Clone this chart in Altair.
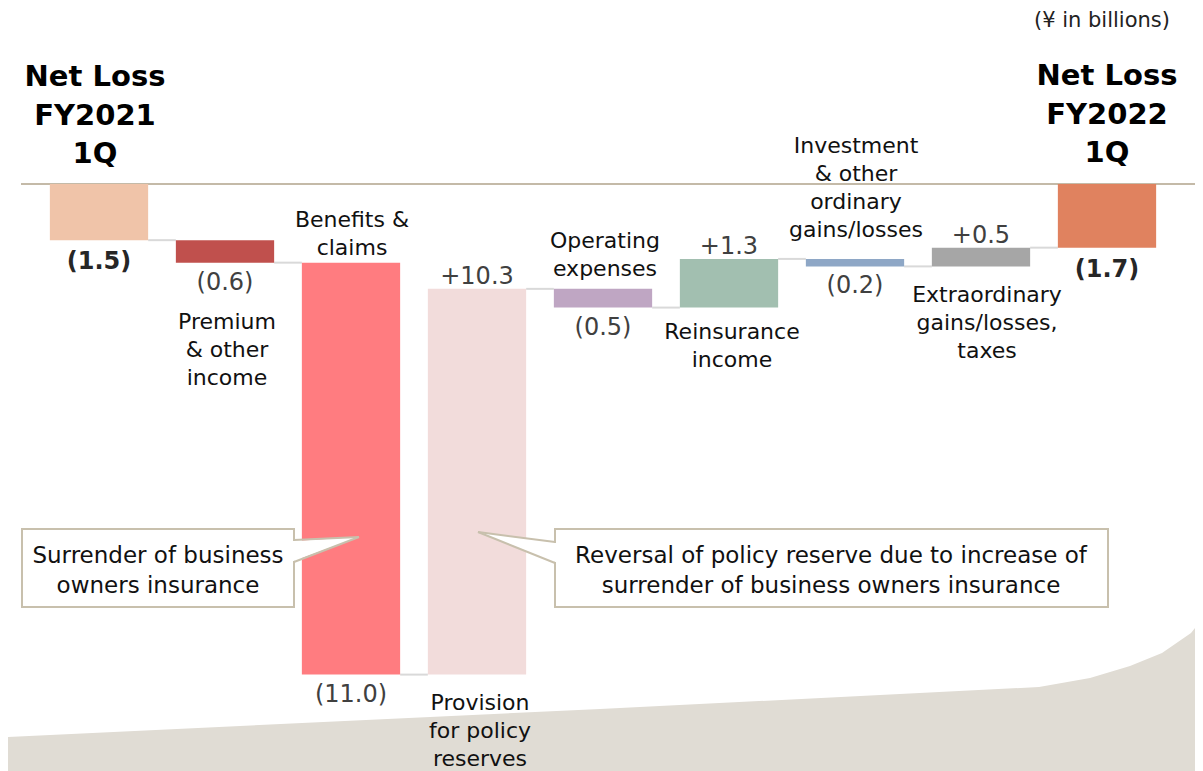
import altair as alt
import pandas as pd

# ---------------- data ----------------
categories = ["Net Loss FY2021 1Q", "Premium & other income", "Benefits & claims",
              "Provision for policy reserves", "Operating expenses", "Reinsurance income",
              "Investment & other ordinary gains/losses", "Extraordinary gains/losses, taxes",
              "Net Loss FY2022 1Q"]
category_lines = ["Net Loss\nFY2021\n1Q", "Premium\n& other\nincome", "Benefits &\nclaims",
                  "Provision\nfor policy\nreserves", "Operating\nexpenses", "Reinsurance\nincome",
                  "Investment\n& other\nordinary\ngains/losses",
                  "Extraordinary\ngains/losses,\ntaxes", "Net Loss\nFY2022\n1Q"]
changes = [-1.5, -0.6, -11.0, 10.3, -0.5, 1.3, -0.2, 0.5, -1.7]
is_total = [True, False, False, False, False, False, False, False, True]
value_text = ["(1.5)", "(0.6)", "(11.0)", "+10.3", "(0.5)", "+1.3", "(0.2)", "+0.5", "(1.7)"]
bar_colors = ["#f0c4a9", "#c0504d", "#ff7c80", "#f2dcdb", "#bfa6c3",
              "#a2bfb0", "#8ea7c6", "#a6a6a6", "#e0825f"]
notes = ["Surrender of business\nowners insurance",
         "Reversal of policy reserve due to increase of\nsurrender of business owners insurance"]
unit_text = "(¥ in billions)"

# ---------------- layout ----------------
W, H = 1187, 763
PPU = 37.45          # pixels per billion
ZERO_PX = 176        # chart y of the zero line
STEP, FIRST = 126, 91
HALF = 0.39
x_dom = [-FIRST / STEP, (W - FIRST) / STEP]
y_dom = [-(H - ZERO_PX) / PPU, ZERO_PX / PPU]


def sx(px):
    return (px - 8 - FIRST) / STEP


def sy(py):
    return (ZERO_PX - (py - 8)) / PPU


xs = alt.Scale(domain=x_dom, nice=False, zero=False)
ys = alt.Scale(domain=y_dom, nice=False, zero=False)
FONT = "DejaVu Sans"

# waterfall table
rows = []
cum = 0.0
for i, (c, v, t) in enumerate(zip(categories, changes, is_total)):
    if t:
        start, end = 0.0, v
    else:
        start, end = cum, cum + v
    cum = end
    rows.append(dict(i=i, cat=c, start=start, end=end, low=min(start, end), high=max(start, end),
                     x0=i - HALF, x1=i + HALF, color=bar_colors[i], vtext=value_text[i],
                     label=category_lines[i], total=t, up=(v > 0 and not t)))
df = pd.DataFrame(rows)

# category label placement (gap from bar edge to first baseline, px)
cat_anchor = ["high", "low", "high", "low", "high", "low", "high", "low", "high"]
cat_gap = [-98, 66, -36, 35, -41, 31, -106, 36, -99]
cat_dx = [-4, 2, 1, 3, 2, 3, 1, 6, 0]
lab_y, lab_x, val_y = [], [], []
for r, a, g, d in zip(rows, cat_anchor, cat_gap, cat_dx):
    fs = 29 if r["total"] else 22
    base = r["high"] if a == "high" else r["low"]
    lab_y.append(base - (g - round(0.79 * fs)) / PPU)
    lab_x.append(r["i"] + d / STEP)
    if r["up"]:
        val_y.append(r["high"] + 5 / PPU)
    else:
        val_y.append(r["low"] - (29 if r["total"] else 27) / PPU)
df["lab_y"] = lab_y
df["lab_x"] = lab_x
df["val_y"] = val_y

# connectors
conn = pd.DataFrame([dict(x=rows[k]["i"] + HALF, x2=rows[k + 1]["i"] - HALF, y=rows[k]["end"])
                     for k in range(len(rows) - 1)])

# decorative background shape
bg_px_x = [8, 600, 1039, 1090, 1130, 1162, 1191, 1195]
bg_px_y = [737, 709, 687, 678, 666, 653, 633, 628]
bg = pd.DataFrame(dict(x=[sx(v) for v in bg_px_x], y=[sy(v) for v in bg_px_y], y2=y_dom[0]))

# callouts
boxes = pd.DataFrame(dict(x=[sx(22), sx(555)], x2=[sx(294), sx(1108)],
                          y=[sy(529), sy(529)], y2=[sy(607), sy(607)],
                          tx=[sx(158), sx(831)], ty=[sy(545), sy(545)], text=notes))
ptr = pd.DataFrame([
    dict(p=0, x=sx(294) - 0.02, y=sy(541), y2=sy(561)),
    dict(p=0, x=sx(294), y=sy(541), y2=sy(561)),
    dict(p=0, x=sx(359), y=sy(537), y2=sy(537)),
    dict(p=1, x=sx(478), y=sy(532), y2=sy(532)),
    dict(p=1, x=sx(555), y=sy(543), y2=sy(562)),
    dict(p=1, x=sx(555) + 0.02, y=sy(543), y2=sy(562)),
])
ptr_edges = pd.DataFrame([
    dict(x=sx(294), y=sy(540), x2=sx(359), y2=sy(537)),
    dict(x=sx(294), y=sy(562), x2=sx(359), y2=sy(537)),
    dict(x=sx(555), y=sy(542), x2=sx(478), y2=sy(532)),
    dict(x=sx(555), y=sy(563), x2=sx(478), y2=sy(532)),
])

BORDER = "#c8c0ad"

bg_layer = alt.Chart(bg).mark_area(color="#e0dcd4", interpolate="linear").encode(
    x=alt.X("x:Q", scale=xs, axis=None), y=alt.Y("y:Q", scale=ys, axis=None), y2="y2:Q")

zero_line = alt.Chart(pd.DataFrame(dict(x=[sx(21)], x2=[x_dom[1]], y=[0.0]))).mark_rule(
    color="#c4baa8", strokeWidth=2).encode(
    x=alt.X("x:Q", scale=xs, axis=None), x2="x2:Q", y=alt.Y("y:Q", scale=ys, axis=None))

conn_layer = alt.Chart(conn).mark_rule(color="#d9d9d9", strokeWidth=2).encode(
    x=alt.X("x:Q", scale=xs, axis=None), x2="x2:Q", y=alt.Y("y:Q", scale=ys, axis=None))

bars = alt.Chart(df).mark_rect().encode(
    x=alt.X("x0:Q", scale=xs, axis=None), x2="x1:Q",
    y=alt.Y("low:Q", scale=ys, axis=None), y2="high:Q",
    color=alt.Color("color:N", scale=None))

vals_reg = alt.Chart(df).transform_filter("!datum.total").mark_text(
    font=FONT, fontSize=24, color="#404040", baseline="alphabetic", align="center").encode(
    x=alt.X("i:Q", scale=xs, axis=None), y=alt.Y("val_y:Q", scale=ys, axis=None), text="vtext:N")

vals_bold = alt.Chart(df).transform_filter("datum.total").mark_text(
    font=FONT, fontSize=24, fontWeight="bold", color="#262626", baseline="alphabetic",
    align="center").encode(
    x=alt.X("i:Q", scale=xs, axis=None), y=alt.Y("val_y:Q", scale=ys, axis=None), text="vtext:N")

cats_reg = alt.Chart(df).transform_filter("!datum.total").mark_text(
    font=FONT, fontSize=22, color="#111111", baseline="top", align="center",
    lineBreak="\n", lineHeight=28).encode(
    x=alt.X("lab_x:Q", scale=xs, axis=None), y=alt.Y("lab_y:Q", scale=ys, axis=None),
    text="label:N")

cats_bold = alt.Chart(df).transform_filter("datum.total").mark_text(
    font=FONT, fontSize=29, fontWeight="bold", color="#000000", baseline="top", align="center",
    lineBreak="\n", lineHeight=38.5).encode(
    x=alt.X("lab_x:Q", scale=xs, axis=None), y=alt.Y("lab_y:Q", scale=ys, axis=None),
    text="label:N")

box_layer = alt.Chart(boxes).mark_rect(fill="white", stroke=BORDER, strokeWidth=2).encode(
    x=alt.X("x:Q", scale=xs, axis=None), x2="x2:Q",
    y=alt.Y("y:Q", scale=ys, axis=None), y2="y2:Q")

ptr_fill = alt.Chart(ptr).mark_area(color="white", interpolate="linear").encode(
    x=alt.X("x:Q", scale=xs, axis=None), y=alt.Y("y:Q", scale=ys, axis=None), y2="y2:Q",
    detail="p:N")

ptr_line = alt.Chart(ptr_edges).mark_rule(color=BORDER, strokeWidth=2).encode(
    x=alt.X("x:Q", scale=xs, axis=None), x2="x2:Q",
    y=alt.Y("y:Q", scale=ys, axis=None), y2="y2:Q")

box_text = alt.Chart(boxes).mark_text(
    font=FONT, fontSize=23, color="#111111", baseline="top", align="center",
    lineBreak="\n", lineHeight=30).encode(
    x=alt.X("tx:Q", scale=xs, axis=None), y=alt.Y("ty:Q", scale=ys, axis=None), text="text:N")

unit_layer = alt.Chart(pd.DataFrame(dict(x=[sx(1170)], y=[sy(27)], t=[unit_text]))).mark_text(
    font=FONT, fontSize=21, color="#222222", align="right", baseline="alphabetic").encode(
    x=alt.X("x:Q", scale=xs, axis=None), y=alt.Y("y:Q", scale=ys, axis=None), text="t:N")

chart = alt.layer(
    bg_layer, zero_line, conn_layer, bars, vals_reg, vals_bold, cats_reg, cats_bold,
    box_layer, ptr_fill, ptr_line, box_text, unit_layer
).properties(
    width=W, height=H, padding=0, autosize=alt.AutoSizeParams(type="none")
).configure_view(stroke=None)

chart.save("out.html", embed_options={"renderer": "svg", "actions": False})
